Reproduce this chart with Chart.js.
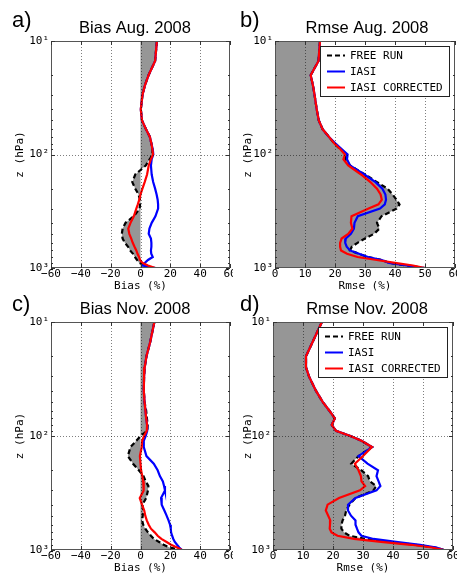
<!DOCTYPE html>
<html>
<head>
<meta charset="utf-8">
<script src="https://cdn.jsdelivr.net/npm/chart.js@4.4.1/dist/chart.umd.min.js"></script>
<style>
  html, body { margin: 0; padding: 0; background: #fff; }
  body { width: 457px; height: 575px; position: relative; overflow: hidden; }
  canvas { position: absolute; }
</style>
</head>
<body>
<script>
// Pressure levels (hPa) shared by every profile, top of the plot first.
const levels = [10, 15, 20, 25, 30, 40, 50, 60, 70, 80, 90, 100, 110, 125, 150, 175, 200, 225,
  250, 275, 300, 350, 400, 450, 500, 550, 600, 650, 700, 750, 800, 850, 900, 950, 1000];

// a) Bias Aug. 2008 (%)
const freeA = [11, 9.8, 5.4, 2.8, 1.3, 0.2, 1, 3.7, 6.3, 7.3, 8, 8, 6.2, 3.5, -3.5, -5.5, -3.5, -1.3,
  -0.4, -0.3, -0.6, -4.5, -10, -12, -12.5, -12, -10.5, -8.3, -7, -5, -3.8, -2.3, -1, 3, 8];
const iasiA = [11, 9.8, 5.4, 2.8, 1.3, 0.2, 1, 3.7, 6.3, 7.3, 8.2, 8.6, 7.5, 7, 7.5, 8.5, 9.8, 10.8,
  11.5, 11.8, 11.8, 10, 7.5, 6, 5.5, 7, 7.3, 7.3, 7, 7.2, 8.2, 5, 3, 1.5, 10];
const corrA = [11, 9.8, 5.4, 2.8, 1.3, 0.2, 1, 3.7, 6.3, 7.3, 8, 8.4, 7, 5.5, 4.4, 2.8, 1.3, 0,
  -0.8, -1.8, -2.8, -4.5, -6.7, -8.2, -7.5, -6.2, -5.2, -4, -2.8, -2, -1, -0.3, 1.2, 5, 10];

// b) Rmse Aug. 2008 (%)
const freeB = [15, 14.5, 11.9, 12.7, 13.2, 13.9, 14.6, 15.9, 18, 19.8, 21.8, 23.8, 23.5, 25, 30, 34,
  37.5, 39.2, 40.5, 41.5, 40.5, 35.5, 34, 34.8, 33, 30, 27.5, 25.6, 25, 28, 31, 35.6, 38, 44, 50];
const iasiB = [15, 14.5, 11.9, 12.7, 13.2, 13.9, 14.6, 15.9, 18, 20.2, 22.3, 24.2, 24, 25, 29.8, 33.5,
  35.8, 36.8, 37, 36.6, 35, 27.6, 26.5, 26.3, 25.3, 23.6, 23.4, 23.9, 25, 28, 31, 35.6, 38, 44, 50];
const corrB = [15, 14.5, 11.9, 12.7, 13.2, 13.9, 14.6, 15.9, 18, 19.8, 21.8, 23.3, 22.8, 24.4, 28.7, 31.8,
  34, 35.2, 35.6, 34.5, 31, 25.5, 25.3, 25.8, 24.4, 22.2, 21.7, 21.7, 22, 24, 27.5, 33.9, 40, 46, 50];

// c) Bias Nov. 2008 (%)
const freeC = [9.3, 6.5, 4, 2.8, 2.4, 2.2, 2.7, 3.8, 4.3, 4.8, 4.6, 0, -2.8, -6.7, -8.5, -5, -1.1, 2,
  3.5, 5.3, 5, 3.8, 1.3, 1.8, 1.5, 1.1, 1.8, 3.2, 5, 7, 9, 12.5, 15.5, 19.5, 27.8];
const iasiC = [9.3, 6.5, 4, 2.8, 2.4, 2.2, 2.7, 3.3, 3.8, 4.4, 4.5, 3.5, 2.2, 2.2, 4, 8.9, 11.5, 13,
  15, 15.8, 16.4, 13.8, 14.2, 16, 17.5, 18.8, 19.8, 20.3, 20.5, 21.2, 22, 23, 24.5, 26, 27.8];
const corrC = [9.3, 6.5, 4, 2.8, 2.4, 2.2, 2.7, 3.3, 3.8, 4.4, 4.2, 2.4, 1.1, 0.8, -0.4, 0, 0.4, 1.2,
  1.8, 2.1, 2.2, -0.5, 1, 2.5, 3.2, 4.2, 5.5, 7, 9.5, 11.5, 14, 17.5, 20.5, 24.5, 27.8];

// d) Rmse Nov. 2008 (%)
const freeD = [16.3, 13.2, 11, 11, 12, 14.3, 16.5, 18.8, 20.6, 19.6, 21, 25.8, 29.5, 33, 28.5, 26.1,
  29.5, 31.7, 32.3, 34.4, 33.5, 27.5, 25.5, 24.4, 24, 23.2, 22.8, 22.8, 23.7, 25.5, 31, 38.5, 47.5, 54, 57];
const iasiD = [16.3, 13.2, 11, 11, 12, 14.3, 16.5, 18.8, 20.6, 19.6, 21, 25.8, 29.5, 33, 28.5, 31.5,
  35, 34.5, 35.2, 35.8, 34.5, 27.5, 25, 25, 26, 27.5, 27.5, 28, 28.5, 29.5, 33.5, 41, 49, 54.5, 57];
const corrD = [16.3, 13.2, 11, 11, 12, 14.3, 16.5, 18.8, 20.6, 19.6, 21, 25.8, 29.5, 33, 30, 27.3,
  28.5, 29.3, 29.5, 30.7, 29, 22, 18.2, 17.6, 18.4, 19.1, 19, 18.9, 19.5, 21.5, 27, 36, 46, 53, 57];

const seriesNames = ['FREE RUN', 'IASI', 'IASI CORRECTED'];
const biasTicks = [-60, -40, -20, 0, 20, 40, 60];
const rmseTicks = [0, 10, 20, 30, 40, 50, 60];
const yMajor = [10, 100, 1000];
const yMinor = [20, 30, 40, 50, 60, 70, 80, 90, 200, 300, 400, 500, 600, 700, 800, 900];
const yLabels = { 10: '10\u00b9', 100: '10\u00b2', 1000: '10\u00b3' };

const MONO = '"DejaVu Sans Mono", monospace';
const SANS = '"Liberation Sans", Arial, sans-serif';
const GRAY = '#969696';
const COLORS = ['#000000', '#0000ff', '#ff0000'];

// where each panel sits on the page (page pixels)
const panels = [
  { tag: 'a)', title: 'Bias Aug. 2008', xTitle: 'Bias (%)', ticks: biasTicks, series: [freeA, iasiA, corrA],
    left: 0, top: 0, w: 233, h: 300, plot: [51, 41, 230, 268], titleX: 135, titleY: 33, tagX: 12, tagY: 27, xTitleY: 286, legend: false },
  { tag: 'b)', title: 'Rmse Aug. 2008', xTitle: 'Rmse (%)', ticks: rmseTicks, series: [freeB, iasiB, corrB],
    left: 228, top: 0, w: 229, h: 300, plot: [275, 41, 455, 268], titleX: 367, titleY: 33, tagX: 240, tagY: 27, xTitleY: 286, legend: true },
  { tag: 'c)', title: 'Bias Nov. 2008', xTitle: 'Bias (%)', ticks: biasTicks, series: [freeC, iasiC, corrC],
    left: 0, top: 285, w: 233, h: 290, plot: [51, 322, 230, 550], titleX: 135, titleY: 314, tagX: 12, tagY: 310.5, xTitleY: 568, legend: false },
  { tag: 'd)', title: 'Rmse Nov. 2008', xTitle: 'Rmse (%)', ticks: rmseTicks, series: [freeD, iasiD, corrD],
    left: 228, top: 285, w: 229, h: 290, plot: [273, 322, 453, 550], titleX: 367, titleY: 314, tagX: 240, tagY: 310.5, xTitleY: 568, legend: true },
];

function minus(v) { return v < 0 ? '\u2212' + Math.abs(v) : String(v); }

const panelPlugin = {
  id: 'panel',
  afterDatasetsDraw(chart, args, o) {
    const { ctx, chartArea: a, scales: { x, y } } = chart;
    const seg = (x1, y1, x2, y2) => { ctx.beginPath(); ctx.moveTo(x1, y1); ctx.lineTo(x2, y2); ctx.stroke(); };
    ctx.save();
    // dotted grid sits above the shading, as in the original figure
    ctx.strokeStyle = 'rgba(0,0,0,0.5)';
    ctx.lineWidth = 1;
    ctx.setLineDash([1, 2]);
    o.ticks.forEach(v => {
      const px = Math.round(x.getPixelForValue(v)) + 0.5;
      if (px > a.left + 1 && px < a.right - 1) seg(px, a.top, px, a.bottom);
    });
    const py = Math.round(y.getPixelForValue(100)) + 0.5;
    seg(a.left, py, a.right, py);
    ctx.setLineDash([]);

    // frame + inward tick marks
    ctx.strokeStyle = '#555';
    ctx.strokeRect(a.left + 0.5, a.top + 0.5, a.right - a.left - 1, a.bottom - a.top - 1);
    ctx.strokeStyle = '#333';
    o.ticks.forEach(v => {
      const px = Math.round(x.getPixelForValue(v)) + 0.5;
      seg(px, a.bottom, px, a.bottom - 4);
      seg(px, a.top, px, a.top + 4);
    });
    yMajor.concat(yMinor).forEach(v => {
      const len = yMajor.includes(v) ? 4 : 2;
      const p = Math.round(y.getPixelForValue(v)) + 0.5;
      seg(a.left, p, a.left + len, p);
      seg(a.right, p, a.right - len, p);
    });
    ctx.restore();
  },
  afterDraw(chart, args, o) {
    const { ctx, chartArea: a } = chart;
    ctx.save();
    ctx.fillStyle = '#000';
    ctx.textBaseline = 'alphabetic';
    ctx.font = '22px ' + SANS;
    ctx.textAlign = 'left';
    ctx.fillText(o.tag, o.tagX, o.tagY);
    ctx.font = '16.5px ' + SANS;
    ctx.textAlign = 'center';
    ctx.fillText(o.title, o.titleX, o.titleY);

    if (o.legend) {
      const bw = 129, bh = 50;
      const bx = a.right - 6 - bw, by = a.top + 5;
      ctx.fillStyle = '#fff';
      ctx.fillRect(bx, by, bw, bh);
      ctx.strokeStyle = '#222';
      ctx.lineWidth = 1;
      ctx.strokeRect(Math.round(bx) + 0.5, Math.round(by) + 0.5, bw, bh);
      ctx.font = '11px ' + MONO;
      ctx.textAlign = 'left';
      ctx.textBaseline = 'middle';
      chart.data.datasets.forEach((ds, i) => {
        const ry = Math.round(by + 8.5 + 16.2 * i) + 0.5;
        ctx.strokeStyle = ds.borderColor;
        ctx.lineWidth = 2;
        ctx.setLineDash(ds.borderDash || []);
        ctx.beginPath(); ctx.moveTo(bx + 7, ry); ctx.lineTo(bx + 25, ry); ctx.stroke();
        ctx.setLineDash([]);
        ctx.fillStyle = '#000';
        ctx.fillText(ds.label, bx + 30, ry + 0.5);
      });
    }
    ctx.restore();
  }
};

panels.forEach(p => {
  const cv = document.createElement('canvas');
  cv.width = p.w; cv.height = p.h;
  cv.style.left = p.left + 'px'; cv.style.top = p.top + 'px';
  document.body.appendChild(cv);

  const [pl, pt, pr, pb] = p.plot;
  const yAxisW = pl - p.left;
  const xAxisH = p.h - (pb - p.top);
  const titleLH = 13.2;

  const datasets = p.series.map((vals, i) => ({
    label: seriesNames[i],
    data: vals.map((v, k) => ({ x: v, y: levels[k] })),
    borderColor: COLORS[i],
    borderWidth: 2.2,
    borderDash: i === 0 ? [5, 3] : [],
    backgroundColor: GRAY,
    fill: i === 0 ? 'origin' : false,
    pointRadius: 0,
    tension: 0,
    order: 3 - i,
  }));

  new Chart(cv, {
    type: 'line',
    data: { datasets },
    options: {
      responsive: false,
      animation: false,
      indexAxis: 'y',
      layout: { padding: { left: 0, top: pt - p.top, right: p.w - (pr - p.left), bottom: 0 } },
      plugins: {
        legend: { display: false },
        tooltip: { enabled: false },
        panel: {
          tag: p.tag, title: p.title, ticks: p.ticks, legend: p.legend,
          tagX: p.tagX - p.left, tagY: p.tagY - p.top,
          titleX: p.titleX - p.left, titleY: p.titleY - p.top,
        },
      },
      scales: {
        x: {
          type: 'linear', position: 'bottom',
          min: p.ticks[0], max: p.ticks[p.ticks.length - 1],
          grid: { display: false, drawTicks: false }, border: { display: false },
          ticks: { font: { family: MONO, size: 11 }, color: '#000', padding: 0, maxRotation: 0,
                   autoSkip: false, callback: v => minus(v) },
          afterBuildTicks: s => { s.ticks = p.ticks.map(v => ({ value: v })); },
          afterFit: s => { s.height = xAxisH; s.paddingLeft = 0; s.paddingRight = 0; },
          title: { display: true, text: p.xTitle, color: '#000',
                   font: { family: MONO, size: 11, lineHeight: 1.2 },
                   padding: { top: 0, bottom: p.h - (p.xTitleY - p.top) - titleLH / 2 } },
        },
        y: {
          type: 'logarithmic', position: 'left', min: 10, max: 1000, reverse: true,
          grid: { display: false, drawTicks: false }, border: { display: false },
          ticks: { font: { family: MONO, size: 11 }, color: '#000', padding: 2, autoSkip: false,
                   callback: v => yLabels[v] || '' },
          afterBuildTicks: s => { s.ticks = yMajor.concat(yMinor).sort((m, n) => m - n).map(v => ({ value: v })); },
          afterFit: s => { s.width = yAxisW; s.paddingTop = 0; s.paddingBottom = 0; },
          title: { display: true, text: 'z (hPa)', color: '#000',
                   font: { family: MONO, size: 11, lineHeight: 1.2 },
                   padding: { top: 20 - titleLH / 2, bottom: 0 } },
        },
      },
    },
    plugins: [panelPlugin],
  });
});
</script>
</body>
</html>
